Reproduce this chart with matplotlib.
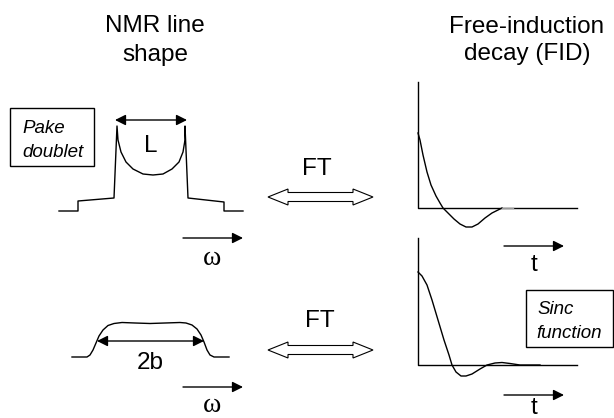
import matplotlib
matplotlib.use("Agg")
import matplotlib.pyplot as plt
from matplotlib.patches import Polygon, Rectangle

W, H = 614, 418
SANS = "Liberation Sans"
SERIF = "Liberation Serif"
BIG = 17.5
BOXFONT = 13.5

# --- curves (pixel coords, y down) ---
pake_x = [59, 78, 78, 114, 117, 118, 121, 126, 133, 143, 153, 163, 172, 179, 183, 185, 185, 188, 224, 224, 243]
pake_y = [211, 211, 201, 198, 126, 140, 152, 162, 169, 174, 175, 174, 169, 162, 152, 140, 126, 198, 202, 211, 211]

rect_x = [72, 87, 90, 93, 96, 99, 103, 108, 114, 122, 135, 150, 165, 180, 186, 192, 197, 201, 204, 207, 210, 214, 229]
rect_y = [357, 357, 355, 350, 343, 336, 330, 325.5, 323.5, 322.5, 323, 323.5, 323, 322.5, 323, 325, 329, 335, 342, 350, 355, 357, 357]

fid1_t = [418, 420, 423, 427, 431, 436, 440, 443, 448, 454, 460, 466, 472, 478, 485, 492, 498, 502]
fid1_s = [133, 140, 155, 172, 185, 196, 203, 208, 213, 219, 224, 227, 227, 224, 218, 213, 210, 208]

fid2_t = [418, 422, 427, 432, 438, 444, 449, 452, 456, 461, 466, 472, 480, 487, 495, 502, 510, 520, 540]
fid2_s = [272, 276, 285, 300, 320, 340, 355, 365, 372, 376, 376, 374, 369, 365, 363, 362.5, 363.5, 365, 365]

# axes of the two FID panels: x0, x1, y_top, y_zero
fid_axes = [(418, 577, 82, 208), (418, 577, 238, 365)]

ft_rows = [197, 350]
omega_rows = [(238, 265), (387, 412)]
t_rows = [(246, 271), (395, 414)]

fig = plt.figure(figsize=(W / 100, H / 100), dpi=100)
ax = fig.add_axes([0, 0, 1, 1])
ax.set_xlim(0, W)
ax.set_ylim(H, 0)
ax.axis("off")

lw = 1.0

# titles
ax.text(155, 32, "NMR line", ha="center", va="baseline", family=SANS, fontsize=BIG)
ax.text(155, 61, "shape", ha="center", va="baseline", family=SANS, fontsize=BIG)
ax.text(527, 33, "Free-induction", ha="center", va="baseline", family=SANS, fontsize=BIG)
ax.text(527, 60, "decay (FID)", ha="center", va="baseline", family=SANS, fontsize=BIG)

# line shapes
ax.plot(pake_x, pake_y, color="black", lw=lw)
ax.plot(rect_x, rect_y, color="black", lw=lw)

def arrow(x0, x1, y, style="-|>"):
    ax.annotate("", xy=(x1, y), xytext=(x0, y),
                arrowprops=dict(arrowstyle=style, color="black", lw=1.0,
                                mutation_scale=16, shrinkA=0, shrinkB=0))

arrow(115, 187, 120, "<|-|>")
ax.text(151, 152, "L", ha="center", va="baseline", family=SANS, fontsize=BIG)
arrow(97, 204, 341, "<|-|>")
ax.text(150, 369, "2b", ha="center", va="baseline", family=SANS, fontsize=BIG)

for ya, yt in omega_rows:
    arrow(183, 243, ya)
    ax.text(212, yt, "\u03c9", ha="center", va="baseline", family=SERIF, fontsize=20)

# labels in boxes
ax.add_patch(Rectangle((10, 108), 84, 58, fill=False, ec="black", lw=1.0))
ax.text(22, 133, "Pake", ha="left", va="baseline", family=SANS, style="italic", fontsize=BOXFONT)
ax.text(22, 157, "doublet", ha="left", va="baseline", family=SANS, style="italic", fontsize=BOXFONT)
ax.add_patch(Rectangle((526, 290), 87, 57, fill=False, ec="black", lw=1.0))
ax.text(537, 314, "Sinc", ha="left", va="baseline", family=SANS, style="italic", fontsize=BOXFONT)
ax.text(536, 338, "function", ha="left", va="baseline", family=SANS, style="italic", fontsize=BOXFONT)

# hollow FT double arrows
def hollow_darrow(x0, x1, y, shaft=4.5, head=8, head_len=20):
    pts = [(x0, y), (x0 + head_len, y - head), (x0 + head_len, y - shaft),
           (x1 - head_len, y - shaft), (x1 - head_len, y - head), (x1, y),
           (x1 - head_len, y + head), (x1 - head_len, y + shaft),
           (x0 + head_len, y + shaft), (x0 + head_len, y + head)]
    ax.add_patch(Polygon(pts, closed=True, fc="white", ec="black", lw=0.8))

for y in ft_rows:
    hollow_darrow(268, 373, y)
ax.text(317, 175, "FT", ha="center", va="baseline", family=SANS, fontsize=BIG)
ax.text(320, 327, "FT", ha="center", va="baseline", family=SANS, fontsize=BIG)

# FID panels
for x0, x1, ytop, yzero in fid_axes:
    ax.plot([x0, x0, x1], [ytop, yzero, yzero], color="black", lw=lw)
ax.plot(fid1_t, fid1_s, color="black", lw=lw)
ax.plot([502, 513], [208, 208], color="#999999", lw=lw)
ax.plot(fid2_t, fid2_s, color="black", lw=lw)

for ya, yt in t_rows:
    arrow(504, 564, ya)
    ax.text(534, yt, "t", ha="center", va="baseline", family=SANS, fontsize=BIG)

fig.savefig("out.png", dpi=100)
